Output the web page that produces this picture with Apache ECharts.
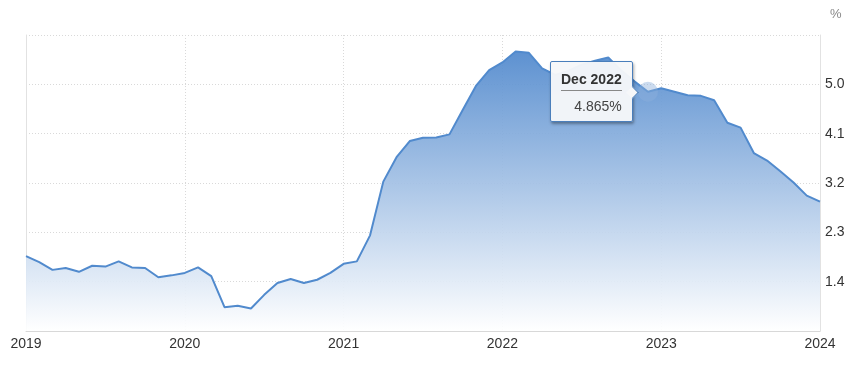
<!DOCTYPE html>
<html>
<head>
<meta charset="utf-8">
<script src="https://cdn.jsdelivr.net/npm/echarts@6/dist/echarts.min.js"></script>
<style>
html,body{margin:0;padding:0;background:#fff;}
#chart{width:854px;height:371px;}
</style>
</head>
<body>
<div id="chart"></div>
<script>
// ---- data ----
const monthNames = ['Jan','Feb','Mar','Apr','May','Jun','Jul','Aug','Sep','Oct','Nov','Dec'];
const years = ['2019','2020','2021','2022','2023','2024'];
const categories = [];
years.forEach(function (y) { monthNames.forEach(function (m) { categories.push(m + ' ' + y); }); });
categories.length = 61; // Jan 2019 .. Jan 2024

const values = [
  1.865, 1.755, 1.615, 1.65, 1.58, 1.69, 1.675, 1.77, 1.66, 1.65, 1.48, 1.515,
  1.56, 1.66, 1.50, 0.935, 0.96, 0.91, 1.16, 1.375, 1.45, 1.375, 1.435, 1.56,
  1.725, 1.77, 2.245, 3.225, 3.67, 3.966, 4.027, 4.03, 4.087, 4.53, 4.97, 5.26,
  5.40, 5.60, 5.575, 5.29, 5.17, 5.25, 5.36, 5.43, 5.49, 5.25, 5.05, 4.865,
  4.93, 4.866, 4.80, 4.79, 4.71, 4.30, 4.21, 3.746, 3.61, 3.415, 3.21, 2.97,
  2.86
];
const yTicks = [0.5, 1.4, 2.3, 3.2, 4.1, 5.0, 5.9];
const highlighted = 'Dec 2022';
const unit = '%';

const hiIdx = categories.indexOf(highlighted);
const chart = echarts.init(document.getElementById('chart'), null, {renderer: 'canvas'});

const dotted = {color: '#d9d9d9', width: 1, type: [1, 2]};
const font = 'Liberation Sans, Arial, sans-serif';

chart.setOption({
  animation: false,
  grid: {left: 26, right: 34, top: 35, bottom: 40, containLabel: false, outerBoundsMode: 'none'},
  xAxis: {
    type: 'category',
    data: categories,
    boundaryGap: false,
    axisLine: {show: true, lineStyle: {color: '#d8d8d8', width: 1}},
    axisTick: {show: false},
    axisLabel: {
      interval: function (i) { return i % 12 === 0; },
      formatter: function (v) { return v.slice(4); },
      color: '#333', fontSize: 14, fontFamily: font, margin: 6
    },
    splitLine: {show: true, interval: function (i) { return i % 12 === 0; }, lineStyle: dotted}
  },
  yAxis: [{
    type: 'value',
    position: 'right',
    min: yTicks[0], max: yTicks[yTicks.length - 1], interval: 0.9,
    name: unit,
    nameLocation: 'end',
    nameGap: 14,
    nameTextStyle: {color: '#888', fontSize: 13, fontFamily: font, align: 'left', padding: [0, 0, 0, 10]},
    axisLine: {show: true, lineStyle: {color: '#e2e2e2', width: 1}},
    axisTick: {show: false},
    axisLabel: {
      showMinLabel: false, showMaxLabel: false,
      formatter: function (v) { return v.toFixed(1); },
      color: '#333', fontSize: 14, fontFamily: font, margin: 5
    },
    splitLine: {show: true, lineStyle: dotted}
  }, {
    type: 'value',
    position: 'left',
    min: yTicks[0], max: yTicks[yTicks.length - 1], interval: 0.9,
    axisLine: {show: true, lineStyle: {color: '#e2e2e2', width: 1}},
    axisTick: {show: false},
    axisLabel: {show: false},
    splitLine: {show: false}
  }],
  tooltip: {
    trigger: 'axis',
    triggerOn: 'none',
    alwaysShowContent: true,
    transitionDuration: 0,
    axisPointer: {type: 'none'},
    backgroundColor: 'rgba(246,247,249,0.96)',
    borderColor: '#4a7ebb',
    borderWidth: 1,
    padding: [8, 10, 6, 10],
    extraCssText: 'box-shadow:1px 2px 3px rgba(0,0,0,0.35);border-radius:2px;',
    position: function (point, params, dom, rect, size) {
      return [point[0] - size.contentSize[0] - 15, point[1] - size.contentSize[1] / 2];
    },
    formatter: function (params) {
      const p = params[0];
      return '<div style="font-family:Liberation Sans,Arial,sans-serif;white-space:nowrap;">' +
        '<div style="font-weight:bold;font-size:14px;line-height:18px;color:#333;border-bottom:1px solid #888;padding-bottom:2px;">' + p.name + '</div>' +
        '<div style="text-align:right;font-size:14px;line-height:18px;color:#444;margin-top:6px;">' + p.value + unit + '</div>' +
        '<div style="position:absolute;right:-5px;top:50%;margin-top:-4px;width:8px;height:8px;background:rgb(246,247,249);border-top:1px solid #4a7ebb;border-right:1px solid #4a7ebb;transform:rotate(45deg);"></div>' +
        '</div>';
    }
  },
  series: [{
    type: 'line',
    data: values,
    symbol: 'none',
    lineStyle: {color: '#4a7ebb', width: 2},
    itemStyle: {color: '#4a7ebb'},
    areaStyle: {
      opacity: 0.93,
      color: new echarts.graphic.LinearGradient(0, 0, 0, 1, [
        {offset: 0, color: '#4a7dbb'},
        {offset: 1, color: '#f7f9fc'}
      ])
    },
    markPoint: {
      symbol: 'circle',
      symbolSize: 20,
      silent: true,
      label: {show: false},
      itemStyle: {color: 'rgba(140,175,220,0.45)'},
      data: [{coord: [categories[hiIdx], values[hiIdx]]}]
    }
  }]
});

chart.dispatchAction({type: 'showTip', seriesIndex: 0, dataIndex: hiIdx});
</script>
</body>
</html>
